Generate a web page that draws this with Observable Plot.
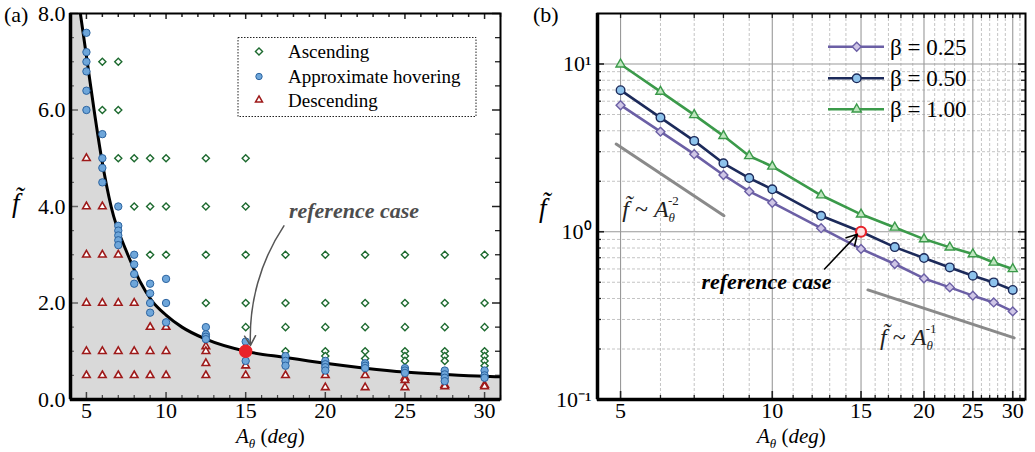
<!DOCTYPE html>
<html><head><meta charset="utf-8">
<script src="https://cdn.jsdelivr.net/npm/d3@7"></script>
<script src="https://cdn.jsdelivr.net/npm/@observablehq/plot@0.6"></script>
<style>
body{margin:0;background:#fff;}
#wrap{display:flex;width:1035px;height:452px;overflow:hidden;}
svg, svg text{font-family:'Liberation Serif','Times New Roman',serif !important;}
</style></head><body><div id="wrap"></div>
<script>
// ================= Panel (a) data =================
const ascending = [
  [6,7.0],[6,6.0],
  [7,7.0],[7,6.0],[7,5.0],
  [8,5.0],[8,4.0],
  [9,5.0],[9,4.0],[9,3.0],
  [10,5.0],[10,4.0],[10,3.0],
  [12.5,5.0],[12.5,4.0],[12.5,3.0],[12.5,2.0],
  [15,5.0],[15,4.0],[15,3.0],[15,2.0],[15,1.5],
  [17.5,3.0],[17.5,2.0],[17.5,1.5],[17.5,1.0],
  [20,3.0],[20,2.0],[20,1.5],[20,1.0],[20,0.9],
  [22.5,3.0],[22.5,2.0],[22.5,1.5],[22.5,1.0],[22.5,0.85],
  [25,3.0],[25,2.0],[25,1.5],[25,1.0],[25,0.9],[25,0.8],
  [27.5,3.0],[27.5,2.0],[27.5,1.5],[27.5,1.0],[27.5,0.9],[27.5,0.8],
  [30,3.0],[30,2.0],[30,1.5],[30,1.0],[30,0.9],[30,0.8],[30,0.7]
];
const hovering = [
  [5,7.6],[5,7.2],[5,7.0],[5,6.8],[5,6.4],[5,6.0],
  [6,5.5],[6,5.0],[6,4.8],[6,4.5],
  [7,4.0],[7,3.6],[7,3.5],[7,3.4],[7,3.3],[7,3.2],
  [8,3.0],[8,2.8],[8,2.6],[8,2.4],
  [9,2.4],[9,2.2],[9,2.0],[9,1.8],
  [10,2.5],[10,2.0],[10,1.6],
  [12.5,1.5],[12.5,1.35],[12.5,1.3],[12.5,1.25],
  [15,1.2],[15,0.8],
  [17.5,0.9],[17.5,0.8],[17.5,0.7],
  [20,0.8],[20,0.73],[20,0.67],[20,0.6],
  [22.5,0.75],[22.5,0.7],[22.5,0.65],
  [25,0.65],[25,0.6],[25,0.55],
  [27.5,0.6],[27.5,0.52],[27.5,0.45],[27.5,0.38],
  [30,0.6],[30,0.5],[30,0.45]
];
const descending = [
  [5,5.0],[5,4.0],[5,3.0],[5,2.0],[5,1.0],[5,0.5],
  [6,4.0],[6,3.0],[6,2.0],[6,1.0],[6,0.5],
  [7,3.0],[7,2.0],[7,1.0],[7,0.5],
  [8,2.0],[8,1.0],[8,0.5],
  [9,1.5],[9,1.0],[9,0.5],
  [10,1.5],[10,1.0],[10,0.5],
  [12.5,1.1],[12.5,1.0],[12.5,0.75],[12.5,0.5],
  [15,0.7],[15,0.5],
  [17.5,0.5],
  [20,0.5],[20,0.25],
  [22.5,0.5],[22.5,0.25],
  [25,0.45],[25,0.4],[25,0.25],
  [27.5,0.3],[27.5,0.27],
  [30,0.3],[30,0.27]
];
const boundary = [
  [4.62,8.0],[5.05,7.0],[5.48,6.0],[5.95,5.0],[6.55,4.0],[7.6,3.0],[9.1,2.05],
  [10,1.75],[11,1.5],[12.5,1.25],[15,1.0],[17.5,0.87],[20,0.75],[22.5,0.65],
  [25,0.57],[27.5,0.52],[30,0.48],[31,0.47]
];
const referencePointA = [[15,1.0]];
const refLabelA = [[21.8,3.9,"reference case"]];
const refArrowA = [[17.4,3.6,15.3,1.12]];
const xDomainA = [4,31];
const yDomainA = [0,8];
const xTicksA = [5,10,15,20,25,30];
const yTicksA = [0,2,4,6,8];
const legendA = ["Ascending","Approximate hovering","Descending"];

// ================= Panel (b) data =================
const amplitudes = [5,6,7,8,9,10,12.5,15,17.5,20,22.5,25,27.5,30];
const beta025 = [5.68,3.95,2.90,2.18,1.74,1.49,1.05,0.79,0.642,0.527,0.466,0.416,0.379,0.335];
const beta050 = [6.98,4.79,3.48,2.56,2.09,1.79,1.245,1.0,0.81,0.697,0.613,0.547,0.499,0.45];
const beta100 = [9.96,6.84,4.97,3.73,2.83,2.45,1.65,1.27,1.06,0.904,0.807,0.736,0.656,0.60];
const seriesNames = ["β = 0.25","β = 0.50","β = 1.00"];
const guideMinus2 = [[4.9,3.33],[8.02,1.245]];
const guideMinus1 = [[15.48,0.45],[30.2,0.233]];
const guideLabels = [[5.05,1.21,"-2"],[16.4,0.21,"-1"]];
const referencePointB = [[15,1.0]];
const refLabelB = [[9.74,0.504,"reference case"]];
const refArrowB = [[12.7,0.60,14.75,0.965]];
const xDomainB = [4.5,31.8];
const yDomainB = [0.1,20];
const xTicksB = [5,10,15,20,25,30];
const yTicksB = [0.1,1,10];
const yTickLabelsB = ["10⁻¹","10⁰","10¹"];

// ================= helpers =================
const P = arr => arr.map(([A,f]) => ({A,f}));
const H = 452, mT = 13, mB = 53, innerH = H - mT - mB;
const FONT = "'Liberation Serif', 'Times New Roman', serif";

function rich(svg, x, y, parts, size, fill="black", anchor="start") {
  const t = d3.select(svg).append("text").attr("x",x).attr("y",y)
    .attr("font-family",FONT).attr("font-size",size).attr("fill",fill).attr("text-anchor",anchor);
  for (const p of parts) {
    const s = t.append("tspan").text(p.t);
    if (p.i) s.attr("font-style","italic");
    if (p.b) s.attr("font-weight","bold");
    if (p.dx) s.attr("dx",p.dx);
    if (p.dy) s.attr("dy",p.dy);
    if (p.s) s.attr("font-size",p.s);
  }
  return t;
}
function range(a,b,step){const r=[];for(let v=a;v<=b+1e-9;v+=step)r.push(+v.toFixed(4));return r;}

// ================= Panel (a) =================
const W1 = 515, mL1 = 70, mR1 = 15, innerW1 = W1 - mL1 - mR1;
const xMinorA = range(4,31,1).filter(v => !xTicksA.includes(v));
const yMinorA = range(0.5,7.5,0.5).filter(v => !yTicksA.includes(v));
const areaData = [{A:xDomainA[0], f:yDomainA[1]}, ...P(boundary)];

const plotA = Plot.plot({
  width: W1, height: H, marginLeft: mL1, marginRight: mR1, marginTop: mT, marginBottom: mB,
  style: {fontFamily: FONT, fontSize: "22px", color: "black", background: "white", overflow: "visible"},
  x: {domain: xDomainA}, y: {domain: yDomainA},
  marks: [
    Plot.areaY(areaData, {x:"A", y:"f", fill:"#d9d9d9", curve:"monotone-x"}),
    Plot.line(P(boundary), {x:"A", y:"f", stroke:"black", strokeWidth:3, curve:"monotone-x", clip:true}),
    // inward ticks
    Plot.ruleX(xMinorA, {x:d=>d, stroke:"#444", strokeWidth:1.2, insetTop: innerH-4}),
    Plot.ruleX(xTicksA, {x:d=>d, stroke:"#444", strokeWidth:1.5, insetTop: innerH-7}),
    Plot.ruleX(xMinorA, {x:d=>d, stroke:"#222", strokeWidth:1.5, insetBottom: innerH-4}),
    Plot.ruleX(xTicksA, {x:d=>d, stroke:"#222", strokeWidth:1.5, insetBottom: innerH-6}),
    Plot.ruleY(yMinorA, {y:d=>d, stroke:"#666", strokeWidth:1.2, insetRight: innerW1-4}),
    Plot.ruleY(yTicksA, {y:d=>d, stroke:"#666", strokeWidth:1.5, insetRight: innerW1-8}),
    Plot.ruleY(yMinorA, {y:d=>d, stroke:"#222", strokeWidth:1.3, insetLeft: innerW1-5}),
    Plot.ruleY(yTicksA, {y:d=>d, stroke:"#222", strokeWidth:1.5, insetLeft: innerW1-8}),
    // data
    Plot.dot(P(ascending), {x:"A", y:"f", symbol:"diamond2", r:3.2, stroke:"#1d6a2f", fill:"white", strokeWidth:1.4}),
    Plot.dot(P(descending), {x:"A", y:"f", symbol:"triangle", r:2.8, stroke:"#9e1a1a", fill:"white", strokeWidth:1.6}),
    Plot.dot(P(hovering), {x:"A", y:"f", symbol:"circle", r:3.7, fill:"#6ea6da", stroke:"#2c64a0", strokeWidth:1}),
    Plot.dot(P(referencePointA), {x:"A", y:"f", r:6, fill:"#e8232a", stroke:"#e8232a"}),
    Plot.arrow(refArrowA, {x1:d=>d[0], y1:d=>d[1], x2:d=>d[2], y2:d=>d[3], bend:-18, stroke:"#555", strokeWidth:1.5, headLength:11}),
    Plot.text(refLabelA, {x:d=>d[0], y:d=>d[1], text:d=>d[2], fontSize:22, fontWeight:"bold", fontStyle:"italic", fill:"#4d4d4d"}),
    Plot.frame({stroke:"black", strokeWidth:2}),
    Plot.ruleX([xDomainA[0]], {x:d=>d, stroke:"black", strokeWidth:3.5}),
    Plot.ruleY([yDomainA[0]], {y:d=>d, stroke:"black", strokeWidth:3.5}),
    Plot.axisX({ticks:xTicksA, tickSize:0, tickPadding:3, label:null}),
    Plot.axisY({ticks:yTicksA, tickSize:0, tickPadding:5, tickFormat:d=>d.toFixed(1), label:null})
  ]
});
document.getElementById("wrap").appendChild(plotA);

// legend (a)
{
  const g = d3.select(plotA).append("g");
  g.append("rect").attr("x",238).attr("y",37.5).attr("width",238).attr("height",79)
    .attr("fill","white").attr("stroke","#222").attr("stroke-width",1).attr("stroke-dasharray","1.5,1.5");
  const ys = [51.5,76.5,100];
  const sym = [
    {type:d3.symbolDiamond2, r:3.2, fill:"white", stroke:"#1d6a2f", sw:1.4},
    {type:d3.symbolCircle, r:3.2, fill:"#6ea6da", stroke:"#2c64a0", sw:1},
    {type:d3.symbolTriangle, r:2.6, fill:"white", stroke:"#9e1a1a", sw:1.5}
  ];
  legendA.forEach((name,i)=>{
    g.append("path").attr("d", d3.symbol().type(sym[i].type).size(Math.PI*sym[i].r**2)())
      .attr("transform",`translate(259,${ys[i]})`).attr("fill",sym[i].fill).attr("stroke",sym[i].stroke).attr("stroke-width",sym[i].sw);
    g.append("text").attr("x",288).attr("y",ys[i]).attr("dy","0.35em").attr("font-family",FONT)
      .attr("text-anchor","start").attr("font-size",19).text(name);
  });
}
rich(plotA, 4, 22, [{t:"(a)"}], 22);
rich(plotA, 12, 212, [{t:"f̃", i:1}], 27);
rich(plotA, 236, 443, [{t:"A",i:1},{t:"θ",i:1,s:13,dy:5},{t:" (",dy:-5},{t:"deg",i:1},{t:")"}], 21);

// ================= Panel (b) =================
const W2 = 520, mL2 = 82, mR2 = 10, innerW2 = W2 - mL2 - mR2;
const xIntB = range(5,31,1);
const xMinorGridB = xIntB.filter(v => !xTicksB.includes(v));
const yMinorB = [0.2,0.3,0.4,0.5,0.6,0.7,0.8,0.9,2,3,4,5,6,7,8,9];
const yMajorGridB = [1,10];
const series = [
  {name:seriesNames[0], vals:beta025, stroke:"#6b5fa5", fill:"#cfc6e6", symbol:"diamond2", r:4.0},
  {name:seriesNames[1], vals:beta050, stroke:"#1c2a5a", fill:"#8ec3ec", symbol:"circle", r:4.3},
  {name:seriesNames[2], vals:beta100, stroke:"#3b9a4a", fill:"#bfe6bf", symbol:"triangle", r:3.4}
];
const seriesMarks = [];
for (const s of series) {
  const d = amplitudes.map((A,i)=>({A, f:s.vals[i]}));
  seriesMarks.push(Plot.line(d, {x:"A", y:"f", stroke:s.stroke, strokeWidth:2.6}));
}
for (const s of series) {
  const d = amplitudes.map((A,i)=>({A, f:s.vals[i]}));
  seriesMarks.push(Plot.dot(d, {x:"A", y:"f", symbol:s.symbol, r:s.r, fill:s.fill, stroke:s.stroke, strokeWidth:1.4}));
}

const plotB = Plot.plot({
  width: W2, height: H, marginLeft: mL2, marginRight: mR2, marginTop: mT, marginBottom: mB,
  style: {fontFamily: FONT, fontSize: "22px", color: "black", background: "white", overflow: "visible"},
  x: {type:"log", domain: xDomainB}, y: {type:"log", domain: yDomainB},
  marks: [
    Plot.ruleX(xMinorGridB, {x:d=>d, stroke:"#c4c4c4", strokeWidth:1, strokeDasharray:"3,2"}),
    Plot.ruleY(yMinorB, {y:d=>d, stroke:"#c4c4c4", strokeWidth:1, strokeDasharray:"3,2"}),
    Plot.ruleX(xTicksB, {x:d=>d, stroke:"#999", strokeWidth:1.1}),
    Plot.ruleY(yMajorGridB, {y:d=>d, stroke:"#999", strokeWidth:1.1}),
    // inward ticks
    Plot.ruleX(xMinorGridB, {x:d=>d, stroke:"#222", strokeWidth:1.3, insetTop: innerH-4}),
    Plot.ruleX(xTicksB, {x:d=>d, stroke:"#222", strokeWidth:1.6, insetTop: innerH-8}),
    Plot.ruleX(xIntB, {x:d=>d, stroke:"#222", strokeWidth:1.3, insetBottom: innerH-5}),
    Plot.ruleY(yMinorB, {y:d=>d, stroke:"#222", strokeWidth:1.3, insetRight: innerW2-4}),
    Plot.ruleY(yMajorGridB, {y:d=>d, stroke:"#222", strokeWidth:1.6, insetRight: innerW2-7}),
    Plot.ruleY(yMinorB, {y:d=>d, stroke:"#222", strokeWidth:1.3, insetLeft: innerW2-4}),
    Plot.ruleY(yMajorGridB, {y:d=>d, stroke:"#222", strokeWidth:1.6, insetLeft: innerW2-7}),
    // guides
    Plot.line(P(guideMinus2), {x:"A", y:"f", stroke:"#8a8a8a", strokeWidth:3}),
    Plot.line(P(guideMinus1), {x:"A", y:"f", stroke:"#8a8a8a", strokeWidth:3}),
    ...seriesMarks,
    Plot.dot(P(referencePointB), {x:"A", y:"f", r:5, fill:"#fbe3e3", stroke:"#e8232a", strokeWidth:2.2}),
    Plot.arrow(refArrowB, {x1:d=>d[0], y1:d=>d[1], x2:d=>d[2], y2:d=>d[3], stroke:"black", strokeWidth:1.6, headLength:11}),
    Plot.text(refLabelB, {x:d=>d[0], y:d=>d[1], text:d=>d[2], fontSize:22, fontWeight:"bold", fontStyle:"italic", fill:"black"}),
    Plot.frame({stroke:"black", strokeWidth:2}),
    Plot.ruleX([xDomainB[0]], {x:d=>d, stroke:"black", strokeWidth:3.5}),
    Plot.ruleY([yDomainB[0]], {y:d=>d, stroke:"black", strokeWidth:3.5}),
    Plot.axisX({ticks:xTicksB, tickSize:0, tickPadding:3, tickFormat:d=>String(d), label:null}),
    Plot.axisY({ticks:yTicksB, tickSize:0, tickPadding:6, tickFormat:d=>yTickLabelsB[yTicksB.indexOf(d)], label:null})
  ]
});
document.getElementById("wrap").appendChild(plotB);

// legend (b)
{
  const g = d3.select(plotB).append("g");
  const ys = [46.7,78.3,109.3];
  series.forEach((s,i)=>{
    g.append("line").attr("x1",313).attr("x2",369).attr("y1",ys[i]).attr("y2",ys[i])
      .attr("stroke",s.stroke).attr("stroke-width",2.6);
    const t = s.symbol==="circle"?d3.symbolCircle:s.symbol==="triangle"?d3.symbolTriangle:d3.symbolDiamond2;
    g.append("path").attr("d", d3.symbol().type(t).size(Math.PI*s.r**2)())
      .attr("transform",`translate(341.7,${ys[i]})`).attr("fill",s.fill).attr("stroke",s.stroke).attr("stroke-width",1.4);
    g.append("text").attr("x",375).attr("y",ys[i]).attr("dy","0.35em").attr("font-family",FONT)
      .attr("text-anchor","start").attr("font-size",23).text(s.name);
  });
}
{
  const sx = plotB.scale("x"), sy = plotB.scale("y");
  guideLabels.forEach(([A,f,e])=>{
    rich(plotB, sx.apply(A), sy.apply(f), [
      {t:"f̃",i:1},{t:" ~ "},{t:"A",i:1},{t:"θ",i:1,s:13,dy:5},{t:e,s:13,dx:-7,dy:-17}
    ], 24, "#222");
  });
}
rich(plotB, 18, 22, [{t:"(b)"}], 22);
rich(plotB, 24, 217, [{t:"f̃", i:1}], 27);
rich(plotB, 242, 443, [{t:"A",i:1},{t:"θ",i:1,s:13,dy:5},{t:" (",dy:-5},{t:"deg",i:1},{t:")"}], 21);
</script></body></html>
